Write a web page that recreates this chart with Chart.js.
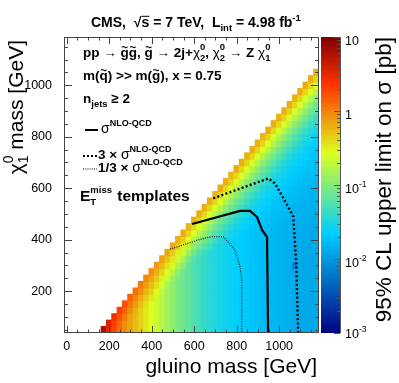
<!DOCTYPE html>
<html>
<head>
<meta charset="utf-8">
<script src="https://cdn.jsdelivr.net/npm/chart.js@4.4.0/dist/chart.umd.min.js"></script>
<style>
  html, body { margin: 0; padding: 0; background: #fff; }
</style>
</head>
<body>
<canvas id="chart" width="399" height="383"></canvas>
<script>
// bin centres, 25 GeV steps
const gluinoMasses = [175, 200, 225, 250, 275, 300, 325, 350, 375, 400, 425, 450, 475, 500, 525, 550, 575, 600, 625, 650,
  675, 700, 725, 750, 775, 800, 825, 850, 875, 900, 925, 950, 975, 1000, 1025, 1050, 1075, 1100, 1125, 1150, 1175];
const lspMasses = [50, 75, 100, 125, 150, 175, 200, 225, 250, 275, 300, 325, 350, 375, 400, 425, 450, 475, 500, 525,
  550, 575, 600, 625, 650, 675, 700, 725, 750, 775, 800, 825, 850, 875, 900, 925, 950, 975, 1000, 1025, 1050];

// log10 of the 95% CL upper limit on sigma [pb]
// row j is lspMasses[j]; its first value is at gluinoMasses[j] (the diagonal), then one per gluino bin
const limitLog10 = [
  [.80,.48,.28,.10,-.04,-.15,-.25,-.35,-.45,-.55,-.65,-.75,-.85,-.95,-1.03,-1.10,-1.17,-1.25,-1.32,-1.38,-1.43,-1.48,-1.52,-1.56,-1.59,-1.62,-1.65,-1.68,-1.71,-1.73,-1.75,-1.77,-1.79,-1.81,-1.83,-1.85,-1.87,-1.88,-1.89,-1.89,-1.89],
  [.55,.32,.12,-.04,-.15,-.25,-.35,-.45,-.55,-.65,-.75,-.85,-.95,-1.03,-1.10,-1.17,-1.25,-1.32,-1.38,-1.43,-1.48,-1.52,-1.56,-1.59,-1.62,-1.65,-1.68,-1.71,-1.73,-1.75,-1.77,-1.79,-1.81,-1.83,-1.85,-1.87,-1.88,-1.89,-1.89,-1.89],
  [.42,.22,.04,-.14,-.25,-.35,-.45,-.55,-.65,-.75,-.85,-.95,-1.03,-1.10,-1.17,-1.25,-1.32,-1.38,-1.43,-1.48,-1.52,-1.56,-1.59,-1.62,-1.65,-1.68,-1.71,-1.73,-1.75,-1.77,-1.79,-1.81,-1.83,-1.85,-1.87,-1.88,-1.89,-1.89,-1.89],
  [.32,.14,-.04,-.21,-.35,-.45,-.55,-.65,-.75,-.85,-.95,-1.03,-1.10,-1.17,-1.25,-1.32,-1.38,-1.43,-1.48,-1.52,-1.56,-1.59,-1.62,-1.65,-1.68,-1.71,-1.73,-1.75,-1.77,-1.79,-1.81,-1.83,-1.85,-1.87,-1.88,-1.89,-1.89,-1.89],
  [.24,.06,-.11,-.27,-.42,-.55,-.65,-.75,-.85,-.95,-1.03,-1.10,-1.17,-1.25,-1.32,-1.38,-1.43,-1.48,-1.52,-1.56,-1.59,-1.62,-1.65,-1.68,-1.71,-1.73,-1.75,-1.77,-1.79,-1.81,-1.83,-1.85,-1.87,-1.88,-1.89,-1.89,-1.89],
  [.16,-.01,-.17,-.32,-.46,-.65,-.75,-.85,-.95,-1.03,-1.10,-1.17,-1.25,-1.32,-1.38,-1.43,-1.48,-1.52,-1.56,-1.59,-1.62,-1.65,-1.68,-1.71,-1.73,-1.75,-1.77,-1.79,-1.81,-1.83,-1.85,-1.87,-1.88,-1.89,-1.89,-1.89],
  [.09,-.07,-.22,-.36,-.54,-.73,-.85,-.95,-1.03,-1.10,-1.17,-1.25,-1.32,-1.38,-1.43,-1.48,-1.52,-1.56,-1.59,-1.62,-1.65,-1.68,-1.71,-1.73,-1.75,-1.77,-1.79,-1.81,-1.83,-1.85,-1.87,-1.88,-1.89,-1.89,-1.89],
  [.03,-.12,-.26,-.43,-.61,-.81,-.95,-1.03,-1.10,-1.17,-1.25,-1.32,-1.38,-1.43,-1.48,-1.52,-1.56,-1.59,-1.62,-1.65,-1.68,-1.71,-1.73,-1.75,-1.77,-1.79,-1.81,-1.83,-1.85,-1.87,-1.88,-1.89,-1.89,-1.89],
  [-.02,-.16,-.32,-.49,-.68,-.88,-1.03,-1.10,-1.17,-1.25,-1.32,-1.38,-1.43,-1.48,-1.52,-1.56,-1.59,-1.62,-1.65,-1.68,-1.71,-1.73,-1.75,-1.77,-1.79,-1.81,-1.83,-1.85,-1.87,-1.88,-1.89,-1.89,-1.89],
  [-.06,-.21,-.37,-.55,-.74,-.95,-1.10,-1.17,-1.25,-1.32,-1.38,-1.43,-1.48,-1.52,-1.56,-1.59,-1.62,-1.65,-1.68,-1.71,-1.73,-1.75,-1.77,-1.79,-1.81,-1.83,-1.85,-1.87,-1.88,-1.89,-1.89,-1.89],
  [-.10,-.25,-.42,-.60,-.80,-.98,-1.17,-1.25,-1.32,-1.38,-1.43,-1.48,-1.52,-1.56,-1.59,-1.62,-1.65,-1.68,-1.71,-1.73,-1.75,-1.77,-1.79,-1.81,-1.83,-1.85,-2.15,-1.88,-1.89,-1.89,-1.89],
  [-.13,-.29,-.46,-.65,-.82,-1.07,-1.23,-1.32,-1.38,-1.43,-1.48,-1.52,-1.56,-1.59,-1.62,-1.65,-1.68,-1.71,-1.73,-1.75,-1.77,-1.79,-1.81,-1.83,-1.85,-1.87,-1.88,-1.89,-1.89,-1.89],
  [-.16,-.32,-.50,-.66,-.90,-1.09,-1.23,-1.35,-1.43,-1.48,-1.52,-1.56,-1.59,-1.62,-1.65,-1.68,-1.71,-1.73,-1.75,-1.77,-1.79,-1.81,-1.83,-1.85,-1.87,-1.88,-1.89,-1.89,-1.89],
  [-.18,-.35,-.50,-.73,-.94,-1.09,-1.23,-1.35,-1.45,-1.52,-1.56,-1.59,-1.62,-1.65,-1.68,-1.71,-1.73,-1.75,-1.77,-1.79,-1.81,-1.83,-1.85,-1.87,-1.88,-1.89,-1.89,-1.89],
  [-.20,-.34,-.56,-.77,-.94,-1.09,-1.23,-1.35,-1.45,-1.53,-1.59,-1.62,-1.65,-1.68,-1.71,-1.73,-1.75,-1.77,-1.79,-1.81,-1.83,-1.85,-1.86,-1.87,-1.88,-1.89,-1.89],
  [-.18,-.39,-.58,-.77,-.94,-1.09,-1.23,-1.35,-1.45,-1.53,-1.59,-1.64,-1.68,-1.71,-1.73,-1.75,-1.77,-1.79,-1.81,-1.83,-1.84,-1.85,-1.86,-1.87,-1.88,-1.89],
  [-.22,-.38,-.58,-.77,-.94,-1.09,-1.23,-1.35,-1.45,-1.53,-1.59,-1.64,-1.68,-1.71,-1.74,-1.76,-1.78,-1.80,-1.82,-1.83,-1.84,-1.85,-1.86,-1.87,-1.88],
  [-.20,-.38,-.58,-.77,-.94,-1.09,-1.23,-1.35,-1.45,-1.53,-1.59,-1.64,-1.68,-1.71,-1.74,-1.76,-1.78,-1.80,-1.82,-1.83,-1.84,-1.85,-1.86,-1.87],
  [-.19,-.38,-.58,-.77,-.94,-1.09,-1.23,-1.35,-1.45,-1.53,-1.59,-1.64,-1.68,-1.71,-1.74,-1.76,-1.78,-1.80,-1.82,-1.83,-1.84,-1.85,-1.86],
  [-.21,-.38,-.58,-.77,-.94,-1.09,-1.23,-1.35,-1.45,-1.53,-1.59,-1.64,-1.68,-1.71,-1.74,-1.76,-1.78,-1.80,-1.82,-1.83,-1.84,-1.85],
  [-.20,-.38,-.58,-.77,-.94,-1.09,-1.23,-1.35,-1.45,-1.53,-1.59,-1.64,-1.68,-1.71,-1.74,-1.76,-1.78,-1.80,-1.82,-1.83,-1.84],
  [-.23,-.38,-.58,-.77,-.94,-1.09,-1.23,-1.35,-1.45,-1.53,-1.59,-1.64,-1.68,-1.71,-1.74,-1.76,-1.78,-1.80,-1.82,-1.83],
  [-.18,-.38,-.58,-.77,-.94,-1.09,-1.23,-1.35,-1.45,-1.53,-1.59,-1.64,-1.68,-1.71,-1.74,-1.76,-1.78,-1.80,-1.82],
  [-.20,-.38,-.58,-.77,-.94,-1.09,-1.23,-1.35,-1.45,-1.53,-1.59,-1.64,-1.68,-1.71,-1.74,-1.76,-1.78,-1.80],
  [-.22,-.38,-.58,-.77,-.94,-1.09,-1.23,-1.35,-1.45,-1.53,-1.59,-1.64,-1.68,-1.71,-1.74,-1.76,-1.78],
  [-.17,-.38,-.58,-.77,-.94,-1.09,-1.23,-1.35,-1.45,-1.53,-1.59,-1.64,-1.68,-1.71,-1.74,-1.76],
  [-.20,-.38,-.58,-.77,-.94,-1.09,-1.23,-1.35,-1.45,-1.53,-1.59,-1.64,-1.68,-1.71,-1.74],
  [-.21,-.38,-.58,-.77,-.94,-1.09,-1.23,-1.35,-1.45,-1.53,-1.59,-1.64,-1.68,-1.71],
  [-.19,-.38,-.58,-.77,-.94,-1.09,-1.23,-1.35,-1.45,-1.53,-1.59,-1.64,-1.68],
  [-.20,-.38,-.58,-.77,-.94,-1.09,-1.23,-1.35,-1.45,-1.53,-1.59,-1.64],
  [-.22,-.38,-.58,-.77,-.94,-1.09,-1.23,-1.35,-1.45,-1.53,-1.59],
  [-.18,-.38,-.58,-.77,-.94,-1.09,-1.23,-1.35,-1.45,-1.53],
  [-.20,-.38,-.58,-.77,-.94,-1.09,-1.23,-1.35,-1.45],
  [-.21,-.38,-.58,-.77,-.94,-1.09,-1.23,-1.35],
  [-.20,-.38,-.58,-.77,-.94,-1.09,-1.23],
  [-.19,-.38,-.58,-.77,-.94,-1.09],
  [-.22,-.38,-.58,-.77,-.94],
  [-.20,-.38,-.58,-.77],
  [-.18,-.38,-.58],
  [-.20,-.38],
  [-.21]
];

// exclusion contours (gluino mass, LSP mass)
const xsecG = [590, 816, 863, 896, 919, 943, 948];
const xsecN = [461, 512, 512, 488, 438, 410, 25];
const xsec3G = [690, 949, 980, 1051, 1067, 1070, 1080, 1090];
const xsec3N = [561, 638, 619, 515, 489, 440, 312, 25];
const xsecThirdG = [486, 627, 683, 737, 792, 816, 824, 824];
const xsecThirdN = [363, 401, 412, 412, 360, 295, 243, 25];

const xTicks = [0, 200, 400, 600, 800, 1000];
const yTicks = [200, 400, 600, 800, 1000];
const zTicks = [10, 1, 0.1, 0.01, 0.001];

// colour palette (5 stops, like the ROOT plot)
const palStops = [0, 0.34, 0.61, 0.84, 1];
const palR = [0, 0, 0.87, 1, 0.51];
const palG = [0, 0.81, 1, 0.2, 0];
const palB = [0.51, 1, 0.12, 0, 0];

function palette(t) {
  t = Math.min(1, Math.max(0, t));
  let k = 0;
  while (k < palStops.length - 2 && t > palStops[k + 1]) k++;
  const f = (t - palStops[k]) / (palStops[k + 1] - palStops[k]);
  const c = a => Math.round(255 * (a[k] + f * (a[k + 1] - a[k])));
  return 'rgb(' + c(palR) + ',' + c(palG) + ',' + c(palB) + ')';
}
// z axis runs 1e-3 .. 10 pb
const colourFor = lg => palette((lg + 3) / 4);

const cells = [];
limitLog10.forEach((row, j) => {
  row.forEach((lg, k) => {
    const g = gluinoMasses[j + k];
    cells.push({ y: lspMasses[j], x: [g - 12.5, g + 12.5], lg: lg });
  });
});

const FONT = '"Liberation Sans", Arial, Helvetica, sans-serif';
const fnt = (s, b) => (b ? 'bold ' : '') + s + 'px ' + FONT;

// draws a run of text pieces (sub/superscripts, tildes), returns width
function runText(ctx, x, y, parts, draw) {
  let cx = x;
  ctx.textAlign = 'left';
  ctx.textBaseline = 'alphabetic';
  for (const p of parts) {
    ctx.font = fnt(p.s, p.b);
    if (p.up !== undefined || p.dn !== undefined) {
      const w = Math.max(p.up ? ctx.measureText(p.up).width : 0, p.dn ? ctx.measureText(p.dn).width : 0);
      if (draw !== false) {
        if (p.up) ctx.fillText(p.up, cx, y + p.upY);
        if (p.dn) ctx.fillText(p.dn, cx, y + p.dnY);
      }
      cx += w + (p.gap || 0);
      continue;
    }
    const w = ctx.measureText(p.t).width;
    if (draw !== false) {
      ctx.fillText(p.t, cx, y + (p.dy || 0));
      if (p.tilde) {
        ctx.font = fnt(p.s * 0.85, p.b);
        ctx.textAlign = 'center';
        ctx.fillText('~', cx + w / 2, y - p.s * 0.42);
        ctx.textAlign = 'left';
      }
      if (p.bar) ctx.fillRect(cx, y - p.s * 0.8, w, 1);
    }
    cx += w;
  }
  return cx - x;
}

function runTextUp(ctx, xBase, yEnd, parts) {
  ctx.save();
  ctx.translate(xBase, yEnd);
  ctx.rotate(-Math.PI / 2);
  const w = runText(ctx, 0, 0, parts, false);
  runText(ctx, -w, 0, parts);
  ctx.restore();
}

const overlay = {
  id: 'overlay',
  afterDraw(chart) {
    const ctx = chart.ctx;
    const a = chart.chartArea;
    const xs = chart.scales.x, ys = chart.scales.y, zs = chart.scales.z;
    ctx.save();

    // colour bar
    const barL = a.right + 2, barR = a.right + 21;
    const N = 120;
    for (let k = 0; k < N; k++) {
      const lo = Math.pow(10, -3 + 4 * k / N), hi = Math.pow(10, -3 + 4 * (k + 1) / N);
      const y0 = zs.getPixelForValue(lo), y1 = zs.getPixelForValue(hi);
      ctx.fillStyle = palette((k + 0.5) / N);
      ctx.fillRect(barL, Math.floor(y1), barR - barL, Math.ceil(y0) - Math.floor(y1));
    }
    ctx.strokeStyle = '#555';
    ctx.lineWidth = 1;
    ctx.beginPath();
    for (let e = -3; e <= 1; e++) {
      for (let m = 1; m <= 9; m++) {
        const v = m * Math.pow(10, e);
        if (v > 10.0001) continue;
        const py = Math.round(zs.getPixelForValue(v)) + 0.5;
        const len = m === 1 ? 6 : 3;
        ctx.moveTo(barR, py);
        ctx.lineTo(barR - len, py);
      }
    }
    ctx.moveTo(barR + 0.5, a.top);
    ctx.lineTo(barR + 0.5, a.bottom);
    ctx.stroke();

    // colour bar labels
    ctx.fillStyle = '#000';
    zTicks.forEach(v => {
      const py = zs.getPixelForValue(v);
      const e = Math.round(Math.log10(v));
      const base = v === 0.001 ? py + 4.5 : py + 7.5;
      const parts = e === 0 ? [{ t: '1', s: 12.5 }]
        : e === 1 ? [{ t: '10', s: 12.5 }]
        : [{ t: '10', s: 12.5 }, { t: String(e), s: 8.5, dy: -6 }];
      runText(ctx, barR + 5, base, parts);
    });

    // frame and inward ticks
    ctx.strokeStyle = '#444';
    ctx.beginPath();
    for (let v = 0; v <= 1150; v += 50) {
      const px = Math.round(xs.getPixelForValue(v)) + 0.5;
      const len = v % 200 === 0 ? 7 : 3.5;
      ctx.moveTo(px, a.bottom); ctx.lineTo(px, a.bottom - len);
      ctx.moveTo(px, a.top); ctx.lineTo(px, a.top + len);
    }
    for (let v = 50; v <= 1150; v += 50) {
      const py = Math.round(ys.getPixelForValue(v)) + 0.5;
      const len = v % 200 === 0 ? 8 : 4;
      ctx.moveTo(a.left, py); ctx.lineTo(a.left + len, py);
      ctx.moveTo(a.right, py); ctx.lineTo(a.right - len, py);
    }
    ctx.stroke();
    ctx.strokeRect(a.left + 0.5, a.top + 0.5, a.right - a.left - 1, a.bottom - a.top - 1);

    ctx.fillStyle = '#000';
    // title
    runText(ctx, 91, 27, [
      { t: 'CMS,  ', s: 14, b: 1 }, { t: '\u221A', s: 14, b: 1 }, { t: 's', s: 14, b: 1, bar: 1 },
      { t: ' = 7 TeV,  L', s: 14, b: 1 }, { t: 'int', s: 9.5, b: 1, dy: 4 },
      { t: ' = 4.98 fb', s: 14, b: 1 }, { t: '-1', s: 9.5, b: 1, dy: -6 }
    ]);

    // process text
    const S = 13.5;
    const chi = (lo) => [{ t: '\u03C7', s: S }, { up: '0', dn: lo, s: 9.5, b: 1, upY: -7, dnY: 4 }];
    runText(ctx, 83, 57, [
      { t: 'pp ', s: S, b: 1 }, { t: '\u2192 ', s: S }, { t: 'g', s: S, b: 1, tilde: 1 }, { t: 'g', s: S, b: 1, tilde: 1 },
      { t: ', ', s: S, b: 1 }, { t: 'g', s: S, b: 1, tilde: 1 }, { t: ' \u2192 ', s: S }, { t: '2j+', s: S, b: 1 },
      ...chi('2'), { t: ', ', s: S, b: 1 }, ...chi('2'), { t: ' \u2192 ', s: S }, { t: 'Z ', s: S, b: 1 }, ...chi('1')
    ]);
    runText(ctx, 83, 80, [
      { t: 'm(', s: S, b: 1 }, { t: 'q', s: S, b: 1, tilde: 1 }, { t: ') >> m(', s: S, b: 1 },
      { t: 'g', s: S, b: 1, tilde: 1 }, { t: '), x = 0.75', s: S, b: 1 }
    ]);
    runText(ctx, 83, 103, [
      { t: 'n', s: S, b: 1 }, { t: 'jets', s: 9.5, b: 1, dy: 4 }, { t: ' \u2265 2', s: S, b: 1 }
    ]);

    // legend
    ctx.strokeStyle = '#000';
    ctx.lineWidth = 2;
    ctx.beginPath(); ctx.moveTo(85, 130); ctx.lineTo(98, 130); ctx.stroke();
    ctx.lineWidth = 2.2; ctx.setLineDash([2, 2]);
    ctx.beginPath(); ctx.moveTo(83, 156); ctx.lineTo(97, 156); ctx.stroke();
    ctx.lineWidth = 1.2; ctx.setLineDash([1, 1.2]);
    ctx.beginPath(); ctx.moveTo(83, 169); ctx.lineTo(97, 169); ctx.stroke();
    ctx.setLineDash([]);
    const sig = [{ t: '\u03C3', s: 14 }, { t: 'NLO-QCD', s: 9, b: 1, dy: -7 }];
    runText(ctx, 101, 133, sig);
    runText(ctx, 98, 159, [{ t: '3 \u00D7 ', s: S, b: 1 }, ...sig]);
    runText(ctx, 98, 172, [{ t: '1/3 \u00D7 ', s: S, b: 1 }, ...sig]);
    runText(ctx, 80, 201, [
      { t: 'E', s: 15.5, b: 1 }, { up: 'miss', dn: 'T', s: 9.5, b: 1, upY: -8, dnY: 4, gap: 1 }, { t: ' templates', s: 15.5, b: 1 }
    ]);

    // axis titles
    ctx.font = fnt(21);
    ctx.textAlign = 'right';
    ctx.fillText('gluino mass [GeV]', 317, 373);
    runTextUp(ctx, 23, 40, [
      { t: '\u03C7', s: 21 }, { up: '0', dn: '1', s: 14, upY: -10, dnY: 5 }, { t: ' mass [GeV]', s: 21 }
    ]);
    runTextUp(ctx, 391, 37, [{ t: '95% CL upper limit on \u03C3 [pb]', s: 22.5 }]);
    ctx.restore();
  }
};

const tickFont = { family: FONT, size: 12.5 };
const toPts = (gs, ns) => gs.map((g, k) => ({ x: g, y: ns[k] }));

new Chart(document.getElementById('chart').getContext('2d'), {
  type: 'scatter',
  data: {
    datasets: [
      { type: 'line', data: toPts(xsecG, xsecN), borderColor: '#000', borderWidth: 2.2, pointRadius: 0, fill: false, order: 0 },
      { type: 'line', data: toPts(xsec3G, xsec3N), borderColor: '#000', borderWidth: 2.4, borderDash: [2, 2.3], pointRadius: 0, fill: false, order: 0 },
      { type: 'line', data: toPts(xsecThirdG, xsecThirdN), borderColor: '#222', borderWidth: 1.3, borderDash: [1, 1.3], pointRadius: 0, fill: false, order: 0 },
      {
        type: 'bar', indexAxis: 'y', data: cells,
        backgroundColor: cells.map(c => colourFor(c.lg)),
        borderWidth: 0, barPercentage: 1, categoryPercentage: 1, inflateAmount: 0.5, order: 1
      }
    ]
  },
  options: {
    responsive: false,
    animation: false,
    events: [],
    layout: { padding: { top: 37, left: 0, right: 0, bottom: 0 } },
    plugins: { legend: { display: false }, tooltip: { enabled: false } },
    scales: {
      x: {
        type: 'linear', position: 'bottom', min: -12.5, max: 1187.5, offset: false,
        grid: { display: false }, border: { display: false },
        afterBuildTicks: s => { s.ticks = xTicks.map(v => ({ value: v })); },
        afterFit: s => { s.height = 50; },
        ticks: { color: '#000', font: tickFont, padding: -2, maxRotation: 0, autoSkip: false, callback: v => String(v) }
      },
      y: {
        type: 'linear', position: 'left', min: 37.5, max: 1187.5, offset: false,
        grid: { display: false }, border: { display: false },
        afterBuildTicks: s => { s.ticks = yTicks.map(v => ({ value: v })); },
        afterFit: s => { s.width = 64; },
        ticks: { color: '#000', font: tickFont, padding: 4, autoSkip: false, callback: v => String(v) }
      },
      z: {
        type: 'logarithmic', position: 'right', min: 0.001, max: 10,
        grid: { display: false }, border: { display: false },
        ticks: { display: false },
        afterFit: s => { s.width = 80; }
      }
    }
  },
  plugins: [overlay]
});
</script>
</body>
</html>
